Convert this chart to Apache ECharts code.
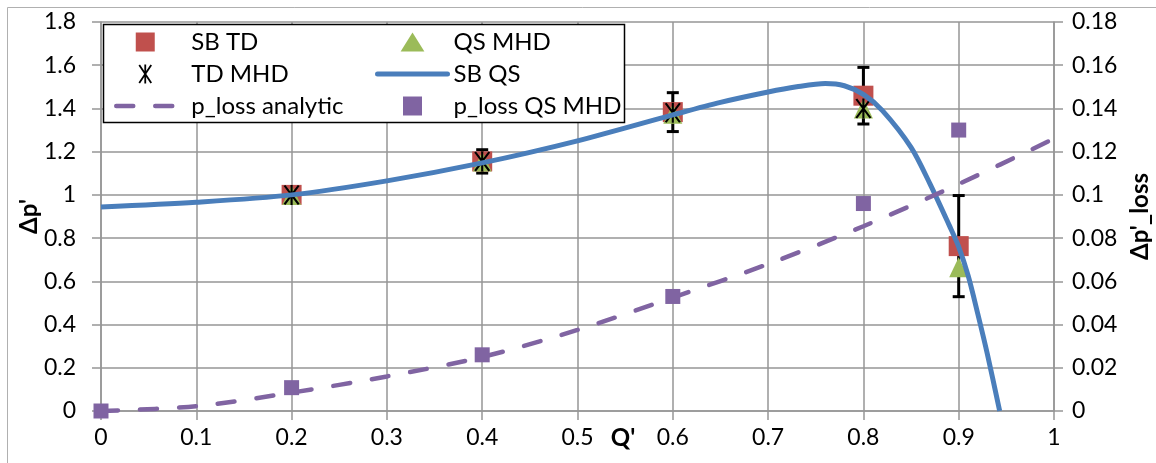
<!DOCTYPE html>
<html>
<head>
<meta charset="utf-8">
<script src="https://cdn.jsdelivr.net/npm/echarts@6/dist/echarts.min.js"></script>
<style>
  html, body { margin: 0; padding: 0; background: #fff; }
  #chart { width: 1156px; height: 463px; }
</style>
</head>
<body>
<div id="chart"></div>
<script>
// Flow rate Q' at which the discrete results were computed
const qPoints = [0.2, 0.4, 0.6, 0.8, 0.9];

// SB TD: values and half-width of their error bars
const sbTd = [1.0, 1.155, 1.383, 1.459, 0.763];
const sbTdErr = [0, 0.054, 0.09, 0.131, 0.234];

// TD MHD (no result at 0.9)
const tdMhdQ = [0.2, 0.4, 0.6, 0.8];
const tdMhd = [1.0, 1.155, 1.38, 1.40];

// QS MHD
const qsMhd = [1.0, 1.155, 1.375, 1.40, 0.665];

// SB QS continuous curve
const sbQsQ = [0, 0.1, 0.2, 0.3, 0.4, 0.5, 0.6, 0.65, 0.7, 0.73, 0.76, 0.78, 0.8, 0.82, 0.85, 0.87, 0.89, 0.9, 0.91, 0.92, 0.93, 0.943];
const sbQs = [0.944, 0.966, 1.0, 1.065, 1.148, 1.25, 1.37, 1.428, 1.476, 1.5, 1.515, 1.505, 1.465, 1.39, 1.22, 1.05, 0.86, 0.76, 0.625, 0.45, 0.265, 0];

// Pressure loss (right axis)
const lossQ = [0, 0.1, 0.2, 0.3, 0.4, 0.5, 0.6, 0.7, 0.8, 0.9, 1.0];
const lossAnalytic = [0, 0.0022, 0.0085, 0.016, 0.025, 0.0375, 0.0525, 0.068, 0.0855, 0.105, 0.126];
const lossQsMhdQ = [0, 0.2, 0.4, 0.6, 0.8, 0.9];
const lossQsMhd = [0, 0.0108, 0.026, 0.053, 0.096, 0.13];

const zip = (xs, ys) => xs.map((x, i) => [x, ys[i]]);

const FONT = 'Lato, "Noto Sans", sans-serif';
const GRID_GRAY = '#969696';
const RED = '#C0504D', GREEN = '#9BBB59', BLUE = '#4A7EBB', PURPLE = '#8064A2';

// Six-armed asterisk marker (vertical bar plus two diagonals)
const ASTERISK = 'path://M-0.6,-6.33L0.6,-6.33L0.6,6.33L-0.6,6.33Z' +
  'M-3.5,-6.33L4.5,5.67L3.5,6.33L-4.5,-5.67Z' +
  'M4.5,-5.67L-3.5,6.33L-4.5,5.67L3.5,-6.33Z';
const SQUARE = 'path://M0,0L10,0L10,10L0,10Z';
const TRIANGLE = 'path://M5,0L10,8L0,8Z';
// legend entries of line series: show the stroke only, no marker
const NO_MARKER = { color: 'rgba(0,0,0,0)', opacity: 0, borderWidth: 0 };

const errData = qPoints
  .map((q, i) => [q, sbTd[i] - sbTdErr[i], sbTd[i] + sbTdErr[i]])
  .filter((d, i) => sbTdErr[i] > 0);

const axisCommon = {
  nameMoveOverlap: false,
  axisLine: { show: true, onZero: false, lineStyle: { color: GRID_GRAY, width: 1.5 } },
  axisTick: { show: true, length: 9, lineStyle: { color: GRID_GRAY, width: 1.5 } },
  axisLabel: { color: '#000', fontFamily: FONT, fontSize: 23, hideOverlap: false },
  nameTextStyle: { color: '#000', fontFamily: FONT, fontSize: 24, fontWeight: 'bold' }
};

const fmt = v => String(+v.toFixed(2));

const option = {
  animation: false,
  backgroundColor: '#fff',
  grid: { left: 101, right: 102, top: 22, bottom: 52, containLabel: false, outerBoundsMode: 'none' },
  graphic: [
    {
      type: 'rect', z: 0, silent: true,
      shape: { x: 7.5, y: 7.5, width: 1170, height: 480 },
      style: { fill: 'none', stroke: '#b0b0b0', lineWidth: 1 }
    },
    {
      type: 'rect', z: 20, silent: true,
      shape: { x: 103.5, y: 24.5, width: 521, height: 98 },
      style: { fill: '#fff', stroke: '#000', lineWidth: 1.5 }
    }
  ],
  legend: [
    {
      z: 30, orient: 'vertical', left: 114, top: 29,
      itemWidth: 58, itemHeight: 19, itemGap: 6, padding: 0,
      textStyle: { fontFamily: FONT, fontSize: 24, color: '#000', lineHeight: 26, padding: [0, 0, 0, 12] },
      data: [
        { name: 'SB TD', icon: SQUARE },
        { name: 'TD MHD', icon: ASTERISK },
        { name: 'p_loss analytic', itemStyle: NO_MARKER,
          lineStyle: { color: PURPLE, width: 4.5, type: [17, 22], cap: 'round' } }
      ]
    },
    {
      z: 30, orient: 'vertical', left: 375, top: 29,
      itemWidth: 70, itemHeight: 19, itemGap: 6, padding: 0,
      textStyle: { fontFamily: FONT, fontSize: 24, color: '#000', lineHeight: 26, padding: [0, 0, 0, 1] },
      data: [
        { name: 'QS MHD', icon: TRIANGLE },
        { name: 'SB QS', itemStyle: NO_MARKER,
          lineStyle: { color: BLUE, width: 5, cap: 'round' } },
        { name: 'p_loss QS MHD', icon: SQUARE }
      ]
    }
  ],
  xAxis: Object.assign({}, axisCommon, {
    type: 'value', min: 0, max: 1, interval: 0.1,
    name: "Q'", nameLocation: 'middle', nameGap: 15,
    nameTextStyle: Object.assign({}, axisCommon.nameTextStyle, { padding: [0, 0, 0, 91] }),
    axisLabel: Object.assign({}, axisCommon.axisLabel, { margin: 15, formatter: fmt }),
    splitLine: { show: true, lineStyle: { color: GRID_GRAY, width: 1.5 } }
  }),
  yAxis: [
    Object.assign({}, axisCommon, {
      type: 'value', min: 0, max: 1.8, interval: 0.2,
      name: "Δp'", nameLocation: 'middle', nameRotate: 90, nameGap: 60,
      axisLabel: Object.assign({}, axisCommon.axisLabel, { margin: 25, formatter: fmt }),
      splitLine: { show: true, lineStyle: { color: GRID_GRAY, width: 1.5 } }
    }),
    Object.assign({}, axisCommon, {
      type: 'value', min: 0, max: 0.18, interval: 0.02, position: 'right',
      name: "Δp'_loss", nameLocation: 'middle', nameRotate: 90, nameGap: 74,
      axisLabel: Object.assign({}, axisCommon.axisLabel, { margin: 18, formatter: fmt }),
      splitLine: { show: false }
    })
  ],
  series: [
    {
      name: 'SB TD err', type: 'custom', yAxisIndex: 0, z: 3,
      data: errData,
      renderItem(params, api) {
        const q = api.value(0);
        const top = api.coord([q, api.value(2)]);
        const bot = api.coord([q, api.value(1)]);
        const hw = 6;
        const st = { stroke: '#000', lineWidth: 3 };
        return {
          type: 'group',
          children: [
            { type: 'line', shape: { x1: top[0], y1: top[1], x2: bot[0], y2: bot[1] }, style: st },
            { type: 'line', shape: { x1: top[0] - hw, y1: top[1], x2: top[0] + hw, y2: top[1] }, style: st },
            { type: 'line', shape: { x1: bot[0] - hw, y1: bot[1], x2: bot[0] + hw, y2: bot[1] }, style: st }
          ]
        };
      }
    },
    {
      name: 'SB TD', type: 'scatter', yAxisIndex: 0, z: 4,
      symbol: 'rect', symbolSize: 20,
      itemStyle: { color: RED, opacity: 1 },
      data: zip(qPoints, sbTd)
    },
    {
      name: 'QS MHD', type: 'scatter', yAxisIndex: 0, z: 4,
      symbol: 'triangle', symbolSize: [19, 20],
      itemStyle: { color: GREEN, opacity: 1 },
      data: zip(qPoints, qsMhd)
    },
    {
      name: 'TD MHD', type: 'scatter', yAxisIndex: 0, z: 4,
      symbol: ASTERISK, symbolSize: [16, 20],
      itemStyle: { color: '#000', opacity: 1 },
      data: zip(tdMhdQ, tdMhd)
    },
    {
      name: 'SB QS', type: 'line', yAxisIndex: 0, z: 5,
      smooth: 0.3, symbol: 'none', showSymbol: false,
      lineStyle: { color: BLUE, width: 5 },
      itemStyle: { color: BLUE },
      data: zip(sbQsQ, sbQs)
    },
    {
      name: 'p_loss analytic', type: 'line', yAxisIndex: 1, z: 5,
      smooth: 0.3, symbol: 'none', showSymbol: false,
      lineStyle: { color: PURPLE, width: 4.5, type: [17, 22], cap: 'round' },
      itemStyle: { color: PURPLE },
      data: zip(lossQ, lossAnalytic)
    },
    {
      name: 'p_loss QS MHD', type: 'scatter', yAxisIndex: 1, z: 6,
      symbol: 'rect', symbolSize: 15,
      itemStyle: { color: PURPLE, opacity: 1 },
      data: zip(lossQsMhdQ, lossQsMhd)
    }
  ]
};

const chart = echarts.init(document.getElementById('chart'), null, { renderer: 'canvas' });
chart.setOption(option);
</script>
</body>
</html>
